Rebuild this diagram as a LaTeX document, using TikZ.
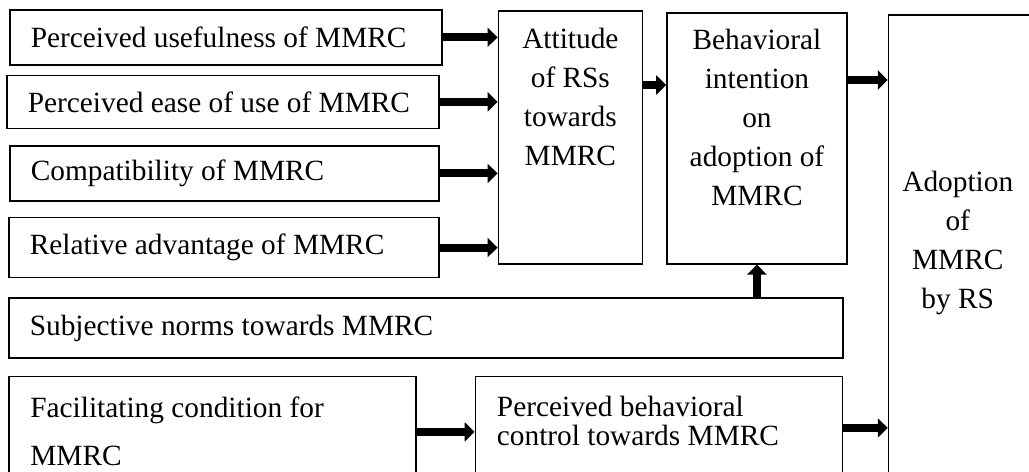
\documentclass[tikz,border=0pt]{standalone}
\usepackage{fontspec}
\setmainfont{Liberation Serif}
\usetikzlibrary{positioning, arrows.meta, calc}

\begin{document}
\begin{tikzpicture}[%
    >={Triangle[length=0.2cm,width=0.38cm]},
    every node/.style={%
      font=\fontsize{16.7}{22.2}\selectfont,
      text=black
    },
    frame/.style={draw=black, line width=0.9pt, inner sep=0pt},
    factor/.style={frame, inner xsep=0.42cm, align=flush left},
    fat/.style={->, line width=0.16cm}
  ]

  \useasboundingbox (0,0) rectangle (20.58,-9.44);
  \clip (0,0) rectangle (20.58,-9.44);

  % Left column
  \node[factor, text width=7.80cm, minimum height=1.10cm, anchor=north west]
    (pu) at (0.18,-0.18) {Perceived usefulness of MMRC};
  \node[factor, text width=7.80cm, minimum height=1.06cm,
    below=0.18cm of pu.south west, anchor=north west, xshift=-0.06cm]
    (pe) {Perceived ease of use of MMRC};
  \node[factor, text width=7.74cm, minimum height=1.10cm,
    below=0.32cm of pe.south west, anchor=north west, xshift=0.06cm]
    (co) {Compatibility of MMRC};
  \node[factor, text width=7.76cm, minimum height=1.20cm,
    below=0.30cm of co.south west, anchor=north west, xshift=-0.02cm]
    (ra) {Relative advantage of MMRC};
  \node[factor, text width=15.84cm, minimum height=1.20cm,
    below=0.38cm of ra.south west, anchor=north west]
    (sn) {Subjective norms towards MMRC};
  \node[frame, minimum width=8.14cm, minimum height=2.20cm,
    below=0.34cm of sn.south west, anchor=north west] (fc) {};

  % Right column
  \node[frame, minimum width=2.88cm, minimum height=5.06cm,
    right=1.10cm of pu.north east, anchor=north west, yshift=-0.02cm] (att) {};
  \node[frame, minimum width=3.60cm, minimum height=5.02cm,
    right=0.46cm of att.north east, anchor=north west, yshift=-0.04cm] (bi) {};
  \node[frame, minimum width=3.00cm, minimum height=10cm,
    right=0.80cm of bi.north east, anchor=north west, yshift=-0.04cm] (ad) {};
  \node[frame, minimum width=7.34cm, minimum height=2.20cm,
    right=1.16cm of fc.north east, anchor=north west] (pbc) {};

  % Texts of the tall boxes
  \node[align=center, inner sep=0pt, below=0.36cm of att.north]
    (att-t) {Attitude\\of RSs\\towards\\MMRC};
  \node[align=center, inner sep=0pt, below=0.34cm of bi.north]
    (bi-t) {Behavioral\\intention\\on\\adoption of\\MMRC};
  \node[align=center, inner sep=0pt, below=3.14cm of ad.north west, xshift=1.40cm]
    (ad-t) {Adoption\\of\\MMRC\\by RS};
  \node[align=flush left, inner sep=0pt, font=\fontsize{16.7}{27.3}\selectfont,
    below right=0.42cm and 0.44cm of fc.north west, anchor=north west]
    (fc-t) {Facilitating condition for\\MMRC};
  \node[align=flush left, inner sep=0pt, font=\fontsize{16.7}{16.6}\selectfont,
    below right=0.40cm and 0.44cm of pbc.north west, anchor=north west]
    (pbc-t) {Perceived behavioral\\control towards MMRC};

  % Arrows
  \draw[fat] (pu.east) -- (pu.east -| att.west);
  \draw[fat] (pe.east) -- (pe.east -| att.west);
  \draw[fat] (co.east) -- (co.east -| att.west);
  \draw[fat] (ra.east) -- (ra.east -| att.west);
  \coordinate (p1) at ([yshift=-1.50cm]att.north east);
  \draw[fat] (p1) -- (p1 -| bi.west);
  \coordinate (p2) at ([yshift=-1.36cm]bi.north east);
  \draw[fat] (p2) -- (p2 -| ad.west);
  \draw[fat] (bi.south |- sn.north) -- (bi.south);
  \coordinate (p3) at ([yshift=-1.12cm]fc.north east);
  \draw[fat] (p3) -- (p3 -| pbc.west);
  \coordinate (p4) at ([yshift=-1.04cm]pbc.north east);
  \draw[fat] (p4) -- (p4 -| ad.west);

\end{tikzpicture}
\end{document}
